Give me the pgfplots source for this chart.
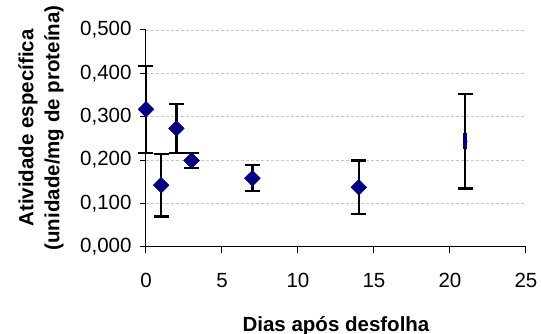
\documentclass[border=0pt]{standalone}
\usepackage{pgfplots}
\pgfplotsset{compat=1.18}
\usepackage{fontspec}
\setmainfont{Liberation Sans}
\definecolor{navy}{HTML}{000080}
\begin{document}
\begin{tikzpicture}
\path[use as bounding box] (-146pt,-87.3pt) rectangle (395pt,246.7pt);
\begin{axis}[
  at={(0,0)}, anchor=south west,
  scale only axis, width=380pt, height=216.7pt,
  xmin=0, xmax=25, ymin=0, ymax=0.5,
  axis x line*=bottom, axis y line*=left,
  axis line style={black, line width=1pt},
  xtick={0,5,10,15,20,25},
  ytick={0,0.1,0.2,0.3,0.4,0.5},
  tick align=outside, major tick length=6pt,
  tick style={black, line width=1pt},
  ymajorgrids,
  major grid style={gray!45, line width=0.8pt, dash pattern=on 3pt off 2pt},
  /pgf/number format/assume math mode=true,
  yticklabel style={xshift=-5pt, /pgf/number format/.cd, fixed, fixed zerofill, precision=3, use comma},
  xticklabel style={yshift=-17pt},
  ticklabel style={font=\fontsize{20.5}{24}\selectfont},
  xlabel={Dias após desfolha},
  xlabel style={at={(axis description cs:0.5,0)}, anchor=base, yshift=-84.5pt, font=\fontsize{20.5}{24}\selectfont\bfseries},
  ylabel={Atividade específica\\(unidade/mg de proteína)},
  ylabel style={at={(axis description cs:-0.276,0.548)}, anchor=center, rotate=0, align=center, font=\fontsize{20.5}{26}\selectfont\bfseries},
  clip=false,
]
\addplot[only marks, mark=none, draw=black,
  error bars/.cd, y dir=both, y explicit,
  error bar style={black, line width=2.5pt},
  error mark options={rotate=90, mark size=7.5pt, line width=2.3pt, black}]
  table[x=x, y=y, y error=e] {
x y e
0 0.317 0.100
1 0.142 0.072
2 0.273 0.057
3 0.199 0.017
7 0.158 0.030
14 0.137 0.062
21 0.243 0.109
};
\addplot[only marks, mark=square*, mark size=5.6pt, mark options={rotate=45, fill=navy, draw=navy}]
  coordinates {(0,0.317) (1,0.142) (2,0.273) (3,0.199) (7,0.158) (14,0.137)};
\addplot[only marks, mark=|, mark size=8pt, mark options={draw=navy, line width=3.5pt}]
  coordinates {(21,0.243)};
\end{axis}
\end{tikzpicture}
\end{document}
